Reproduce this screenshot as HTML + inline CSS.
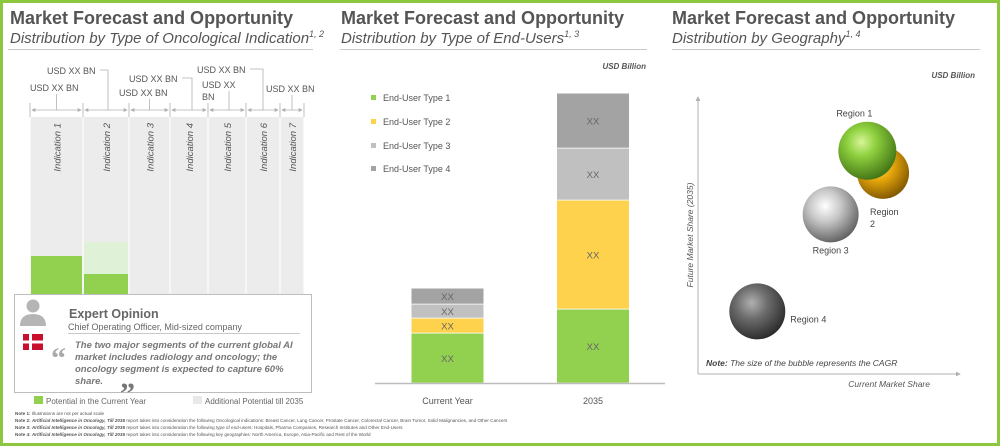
<!DOCTYPE html>
<html><head><meta charset="utf-8">
<style>
html,body{margin:0;padding:0;background:#fff;}
svg{display:block;font-family:"Liberation Sans",Arial,sans-serif;}
</style></head>
<body>
<svg id="root" width="1000" height="447" viewBox="0 0 1000 447">
<defs>
<radialGradient id="gGreen" cx="0.4" cy="0.35" r="0.7"><stop offset="0" stop-color="#d8f59a"/><stop offset="0.35" stop-color="#8fd13f"/><stop offset="1" stop-color="#3d6e12"/></radialGradient>
<radialGradient id="gGold" cx="0.4" cy="0.35" r="0.7"><stop offset="0" stop-color="#ffe680"/><stop offset="0.4" stop-color="#e8a90c"/><stop offset="1" stop-color="#7a5200"/></radialGradient>
<radialGradient id="gSilver" cx="0.4" cy="0.35" r="0.7"><stop offset="0" stop-color="#ffffff"/><stop offset="0.4" stop-color="#c8c8c8"/><stop offset="1" stop-color="#5a5a5a"/></radialGradient>
<radialGradient id="gDark" cx="0.4" cy="0.35" r="0.7"><stop offset="0" stop-color="#b0b0b0"/><stop offset="0.4" stop-color="#6d6d6d"/><stop offset="1" stop-color="#262626"/></radialGradient>
<marker id="ah" viewBox="0 0 6 6" refX="5" refY="3" markerWidth="5" markerHeight="5" orient="auto-start-reverse"><path d="M0,0L6,3L0,6z" fill="#b0b0b0"/></marker>
</defs>
<rect x="1.5" y="1.5" width="997" height="443" fill="#fff" stroke="#8dc63f" stroke-width="3"/>

<g>
<text x="10" y="24" font-size="18" font-weight="bold" fill="#555">Market Forecast and Opportunity</text>
<text x="10" y="43" font-size="15" font-style="italic" fill="#555">Distribution by Type of Oncological Indication<tspan font-size="9" dy="-6">1, 2</tspan></text>
<line x1="8" y1="49.5" x2="313" y2="49.5" stroke="#c8c8c8"/>
</g>
<g>
<text x="341" y="24" font-size="18" font-weight="bold" fill="#555">Market Forecast and Opportunity</text>
<text x="341" y="43" font-size="15" font-style="italic" fill="#555">Distribution by Type of End-Users<tspan font-size="9" dy="-6">1, 3</tspan></text>
<line x1="340" y1="49.5" x2="647" y2="49.5" stroke="#c8c8c8"/>
</g>
<g>
<text x="672" y="24" font-size="18" font-weight="bold" fill="#555">Market Forecast and Opportunity</text>
<text x="672" y="43" font-size="15" font-style="italic" fill="#555">Distribution by Geography<tspan font-size="9" dy="-6">1, 4</tspan></text>
<line x1="672" y1="49.5" x2="980" y2="49.5" stroke="#c8c8c8"/>
</g>

<g id="left"></g>

<g>
<rect x="14.5" y="294.5" width="297" height="98" fill="#fff" stroke="#bdbdbd"/>
<circle cx="33" cy="306" r="6.5" fill="#b5b5b5"/>
<path d="M20,326 Q20,314 33,314 Q46,314 46,326 Z" fill="#b5b5b5"/>
<g>
<rect x="23" y="334" width="20" height="16" fill="#c8102e"/>
<rect x="29" y="334" width="3" height="16" fill="#fff"/>
<rect x="23" y="340.5" width="20" height="3" fill="#fff"/>
</g>
<text x="69" y="318" font-size="12.5" font-weight="bold" fill="#666">Expert Opinion</text>
<text x="68" y="330" font-size="9" fill="#666">Chief Operating Officer, Mid-sized company</text>
<line x1="68" y1="333.5" x2="300" y2="333.5" stroke="#c8c8c8"/>
<text x="51" y="368" font-size="30" font-weight="bold" fill="#aaa" font-family="Liberation Serif, serif">“</text>
<text font-size="9.5" font-weight="bold" font-style="italic" fill="#777">
<tspan x="75" y="348">The two major segments of the current global AI</tspan>
<tspan x="75" y="360">market includes radiology and oncology; the</tspan>
<tspan x="75" y="372">oncology segment is expected to capture 60%</tspan>
<tspan x="75" y="384">share.</tspan></text>
<text x="120" y="403" font-size="30" font-weight="bold" fill="#777" font-family="Liberation Serif, serif">”</text>
</g>
<g>
<rect x="34" y="396" width="9" height="8" fill="#92d050"/>
<text x="46" y="404" font-size="8" fill="#666">Potential in the Current Year</text>
<rect x="193" y="396" width="9" height="8" fill="#e8e8e8"/>
<text x="205" y="404" font-size="8" fill="#666">Additional Potential till 2035</text>
</g>
<g font-size="4.6" fill="#555">
<text x="15" y="415"><tspan font-weight="bold">Note 1:</tspan> Illustrations are not per actual scale</text>
<text x="15" y="422"><tspan font-weight="bold">Note 2: <tspan font-style="italic">Artificial Intelligence in Oncology, Till 2035</tspan></tspan> report takes into consideration the following Oncological indications: Breast Cancer, Lung Cancer, Prostate Cancer, Colorectal Cancer, Brain Tumor, Solid Malignancies, and Other Cancers</text>
<text x="15" y="429"><tspan font-weight="bold">Note 3: <tspan font-style="italic">Artificial Intelligence in Oncology, Till 2035</tspan></tspan> report takes into consideration the following type of end-users: Hospitals, Pharma Companies, Research Institutes and Other End-Users</text>
<text x="15" y="436"><tspan font-weight="bold">Note 4: <tspan font-style="italic">Artificial Intelligence in Oncology, Till 2035</tspan></tspan> report takes into consideration the following key geographies: North America, Europe, Asia-Pacific and Rest of the World</text>
</g>

<g id="mid"></g>
<g id="right"></g>
</svg>
<script>
const NS="http://www.w3.org/2000/svg";
function mk(parent,tag,attrs,txt){const e=document.createElementNS(NS,tag);for(const k in attrs)e.setAttribute(k,attrs[k]);if(txt!==undefined)e.textContent=txt;parent.appendChild(e);return e;}

// ---- Left chart data ----
const indications=["Indication 1","Indication 2","Indication 3","Indication 4","Indication 5","Indication 6","Indication 7"];
const indWidths=[53,46,41,38,38,34,24];
const indCurrent=[39,21,0,0,0,0,0];
const indAdditional=[0,32,0,0,0,0,0];
const indLabels=["USD XX  BN","USD XX BN","USD XX BN","USD XX BN","USD XX\nBN","USD XX BN","USD XX BN"];
(function(){
 const g=document.getElementById("left");
 // label layout: [textX(start), baselineY, connectorX or null (elbow)]
 const layout=[[30,91,null],[47,74,108],[119,96,null],[129,82,192],[202,88,null],[197,73,263],[266,92,null]];
 const x0=30,top=117,base=295,arrowY=110;
 const totalW=indWidths.reduce((a,b)=>a+b,0);
 const sx=v=>v*(274/totalW);
 const yv=v=>base-v;
 let x=x0;
 indications.forEach((name,i)=>{
  const w=sx(indWidths[i]);
  const col=mk(g,"rect",{x:x+0.5,y:top,width:w-1,height:base-top,fill:"#ececec"});
  
  
  if(indAdditional[i]>0){
   const a=mk(g,"rect",{x:x+1,y:yv(indAdditional[i]+indCurrent[i]),width:w-2,height:indAdditional[i],fill:"#dff2d8"});
   
   
  }
  if(indCurrent[i]>0){
   const c=mk(g,"rect",{x:x+1,y:yv(indCurrent[i]),width:w-2,height:indCurrent[i],fill:"#92d050"});
   
   
  }
  const cx=x+w/2;
  const t=mk(g,"text",{x:0,y:0,transform:`translate(${cx+4},${top+6}) rotate(-90)`,"text-anchor":"end","font-size":"9.5","font-style":"italic",fill:"#555"},name);
  
  
  const ar=mk(g,"line",{x1:x+2,y1:arrowY,x2:x+w-2,y2:arrowY,stroke:"#b0b0b0","stroke-width":"0.8","marker-start":"url(#ah)","marker-end":"url(#ah)"});
  
  
  mk(g,"line",{x1:x,y1:arrowY-7,x2:x,y2:arrowY+7,stroke:"#b0b0b0","stroke-width":"0.8"});
  const L=layout[i];
  const lines=indLabels[i].split("\n");
  const lab=mk(g,"text",{x:L[0],y:L[1],"font-size":"9",fill:"#555"});
  
  
  lines.forEach((l,k)=>mk(lab,"tspan",{x:L[0],dy:k?12:0},l));
  if(L[2]!==null){
   mk(g,"polyline",{points:`${L[0]+53},${L[1]-4} ${L[2]},${L[1]-4} ${L[2]},${arrowY}`,fill:"none",stroke:"#b0b0b0","stroke-width":"0.8"});
  } else {
   const lx = lines.length>1 ? L[0]+27 : cx;
   mk(g,"line",{x1:lx,y1:L[1]+3,x2:lx,y2:arrowY,stroke:"#b0b0b0","stroke-width":"0.8"});
  }
  x+=w;
 });
 mk(g,"line",{x1:x,y1:arrowY-7,x2:x,y2:arrowY+7,stroke:"#b0b0b0","stroke-width":"0.8"});
})();

// ---- Middle chart data ----
const euCategories=["Current Year","2035"];
const euSeriesNames=["End-User Type 1","End-User Type 2","End-User Type 3","End-User Type 4"];
const euType1=[5.0,7.4];
const euType2=[1.5,10.9];
const euType3=[1.4,5.2];
const euType4=[1.6,5.5];
const euLabels=["XX","XX","XX","XX"];
(function(){
 const g=document.getElementById("mid");
 const colors=["#92d050","#ffd24d","#c0c0c0","#a3a3a3"];
 const base=383.5, pxPerUnit=10;
 const yv=v=>base-v*pxPerUnit;
 const xCenters=[447.5,593];
 const bw=72;
 const series=[euType1,euType2,euType3,euType4];
 const un=mk(g,"text",{x:646,y:69,"text-anchor":"end","font-size":"8","font-weight":"bold","font-style":"italic",fill:"#555"},"USD Billion");
 
 
 euCategories.forEach((c,i)=>{
  let cum=0;
  series.forEach((s,j)=>{
   const y0=yv(cum),y1=yv(cum+s[i]);
   const r=mk(g,"rect",{x:xCenters[i]-bw/2,y:y1,width:bw,height:y0-y1-0.8,fill:colors[j]});
   
   
   const t=mk(g,"text",{x:xCenters[i],y:(y0+y1)/2+3.5,"text-anchor":"middle","font-size":"9.5",fill:"#666"},euLabels[j]);
   
   
   cum+=s[i];
  });
  const xl=mk(g,"text",{x:xCenters[i],y:404,"text-anchor":"middle","font-size":"9",fill:"#555"},c);
  
  
 });
 const ax=mk(g,"line",{x1:375,y1:base,x2:665,y2:base,stroke:"#bdbdbd","stroke-width":"1.5"});
 
 
 euSeriesNames.forEach((n,j)=>{
  const y=[98,122,146,169][j];
  const s=mk(g,"rect",{x:371,y:y-3,width:5,height:5,fill:colors[j]});
  
  
  const t=mk(g,"text",{x:383,y:y+3,"font-size":"9",fill:"#555"},n);
  
  
 });
})();

// ---- Right bubble chart data ----
const regions=["Region 1","Region 2","Region 3","Region 4"];
const currentShare=[57,63,43,15];
const futureShare=[77,69,54,19];
const cagrSize=[29,26,28,28];
(function(){
 const g=document.getElementById("right");
 const ox=698,oy=374,xMax=960,yTop=97;
 const sx=v=>ox+20+v*((xMax-ox)/100);
 const sy=v=>oy-10-v*((oy-yTop)/100);
 const ul=mk(g,"text",{x:975,y:78,"text-anchor":"end","font-size":"8","font-weight":"bold","font-style":"italic",fill:"#555"},"USD Billion");
 
 
 const ya=mk(g,"line",{x1:ox,y1:oy,x2:ox,y2:yTop,stroke:"#b0b0b0","stroke-width":"1","marker-end":"url(#ah)"});
 
 
 const xa=mk(g,"line",{x1:ox,y1:oy,x2:xMax,y2:oy,stroke:"#b0b0b0","stroke-width":"1","marker-end":"url(#ah)"});
 
 
 const yt=mk(g,"text",{transform:`translate(693,235) rotate(-90)`,"text-anchor":"middle","font-size":"8.5","font-style":"italic",fill:"#555"},"Future Market Share (2035)");
 
 
 const xt=mk(g,"text",{x:930,y:387,"text-anchor":"end","font-size":"8.5","font-style":"italic",fill:"#555"},"Current Market Share");
 
 
 const nt=mk(g,"text",{x:706,y:366,"font-size":"8.5","font-style":"italic",fill:"#444"});
 
 
 mk(nt,"tspan",{"font-weight":"bold"},"Note:");
 mk(nt,"tspan",{}," The size of the bubble represents the CAGR");
 const fills=["url(#gGreen)","url(#gGold)","url(#gSilver)","url(#gDark)"];
 const order=[1,0,2,3];
 order.forEach(i=>{
  const b=mk(g,"circle",{cx:sx(currentShare[i]),cy:sy(futureShare[i]),r:cagrSize[i],fill:fills[i]});
  
  
 });
 const labelPos=[[-13,-34,"middle"],[-13,42,"start"],[0,39,"middle"],[33,11,"start"]];
 regions.forEach((r,i)=>{
  const cx=sx(currentShare[i]),cy=sy(futureShare[i]);
  const lp=labelPos[i];
  const t=mk(g,"text",{x:cx+lp[0],y:cy+lp[1],"text-anchor":lp[2],"font-size":"9",fill:"#444"});
  
  
  if(i===1){mk(t,"tspan",{x:cx+lp[0],dy:0},"Region");mk(t,"tspan",{x:cx+lp[0],dy:12},"2");}
  else t.textContent=r;
 });
})();
</script>
</body></html>
